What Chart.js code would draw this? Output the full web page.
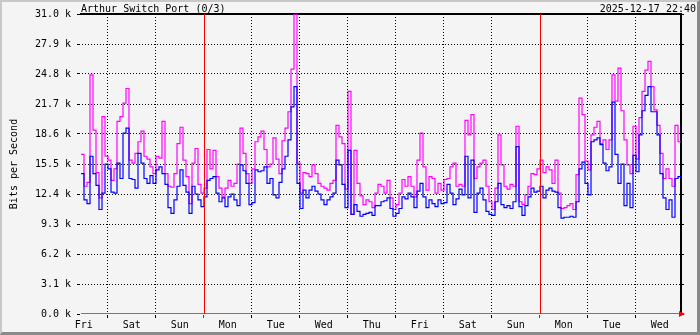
<!DOCTYPE html>
<html>
<head>
<meta charset="utf-8">
<script src="https://cdn.jsdelivr.net/npm/chart.js@4/dist/chart.umd.min.js"></script>
<style>
html,body{margin:0;padding:0;background:#f4f4f4;}
#wrap{position:relative;width:700px;height:335px;}
canvas{display:block;}
#frame{position:absolute;left:0;top:0;width:700px;height:335px;box-sizing:border-box;
  border-top:2px solid #c8c8c8;border-left:2px solid #c8c8c8;
  border-right:3px solid #8a8a8a;border-bottom:3px solid #8a8a8a;pointer-events:none;}
</style>
</head>
<body>
<div id="wrap"><canvas id="c" width="700" height="335"></canvas><div id="frame"></div></div>
<script>
// ---- texts ----
const chartTitle = 'Arthur Switch Port (0/3)';
const timestamp = '2025-12-17 22:40';
const yAxisTitle = 'Bits per Second';
// ---- axis categories / ticks ----
const dayLabels = ['Fri','Sat','Sun','Mon','Tue','Wed','Thu','Fri','Sat','Sun','Mon','Tue','Wed'];
const yTickValues = [0, 3.1, 6.2, 9.3, 12.4, 15.5, 18.6, 21.7, 24.8, 27.9, 31.0]; // k bits/s
const SPAN_HOURS = 300;          // width of the week graph (hours)
const SAMPLE_HOURS = 1.5;        // one value per 1.5 h
const FIRST_MIDNIGHT = 13 + 1/3; // hours from left edge (Fri 10:40) to Sat 00:00

// ---- series (k bits per second) ----
const maxOut = [
 16.5,13.2,13.6,24.7,19.0,14.6,12.0,20.4,16.3,15.9,13.8,15.0,19.9,20.4,21.8,23.3,15.9,15.6,16.6,17.8,
 18.9,16.3,16.0,15.2,14.5,16.3,16.1,19.9,14.5,13.2,13.1,14.5,17.6,19.3,15.9,14.2,11.4,15.6,17.1,13.4,
 12.5,13.0,17.0,15.0,16.9,14.2,13.0,12.1,13.0,13.8,13.2,13.5,15.5,19.2,16.6,14.5,13.5,15.0,17.8,18.3,
 18.9,17.0,15.2,15.5,18.2,16.0,14.5,17.9,19.2,20.9,25.3,31.0,15.6,12.5,14.6,14.5,14.2,15.4,14.5,13.5,
 13.2,13.0,12.8,13.5,13.8,19.5,18.3,17.6,12.9,23.0,10.3,16.9,13.5,12.2,11.3,11.8,11.6,11.0,12.5,13.4,
 13.2,12.5,13.8,12.0,10.8,11.3,12.5,13.9,13.2,14.2,13.2,12.1,15.9,18.7,15.2,12.8,14.2,14.0,12.5,13.5,
 12.8,13.9,14.0,15.2,15.6,13.2,13.4,13.2,20.0,18.5,20.6,14.0,15.2,15.6,15.9,13.2,11.6,10.8,13.0,18.5,
 15.4,13.2,12.9,13.4,13.2,19.4,11.6,11.3,12.3,13.2,14.5,14.4,15.0,15.9,14.6,15.2,14.9,13.5,15.9,12.5,
 10.9,11.0,11.2,11.4,10.8,14.4,22.3,20.6,15.8,14.9,18.5,19.3,19.9,17.6,18.0,17.0,18.0,24.7,22.0,25.4,
 21.0,18.0,15.4,14.5,19.4,16.0,20.3,23.0,25.2,26.1,23.5,21.1,19.5,16.6,14.0,15.0,14.0,13.2,19.5,17.8
];
const avgOut = [
 14.5,11.8,11.4,16.3,14.5,13.3,10.8,12.5,15.5,15.0,12.6,12.5,15.6,14.0,18.7,19.2,14.0,13.9,13.0,16.6,
 15.6,14.0,13.5,14.3,13.5,14.9,15.2,14.5,13.4,11.0,10.4,11.8,13.2,14.9,13.3,12.6,10.4,13.2,12.4,11.8,
 11.1,12.1,13.8,14.0,14.2,12.5,11.6,12.0,11.1,12.1,12.4,11.8,11.2,15.4,14.8,13.5,11.3,11.5,14.9,14.7,
 14.8,15.2,13.5,14.0,12.3,12.0,13.6,15.0,16.3,18.0,21.4,23.5,13.5,10.9,12.8,12.0,12.8,13.2,12.7,12.4,
 11.8,11.3,11.8,12.1,12.5,15.9,15.4,13.4,11.0,16.9,10.3,11.3,10.6,10.1,10.3,10.4,10.5,10.2,11.2,11.2,
 11.6,11.7,12.0,10.9,10.1,10.4,10.9,12.1,11.9,12.5,12.1,11.0,12.7,13.5,12.1,11.0,11.8,11.4,11.1,11.8,
 11.4,11.5,13.4,12.5,11.3,11.9,12.9,12.3,16.3,12.0,15.9,10.5,12.5,13.0,11.8,10.6,10.3,10.2,11.6,13.5,
 11.3,11.0,11.2,10.9,11.6,17.3,11.1,10.2,11.2,12.1,13.0,12.6,12.7,13.2,12.0,12.8,13.0,12.7,12.6,11.0,
 9.9,10.0,10.0,10.1,10.0,11.6,15.0,15.7,13.5,12.3,17.8,18.0,18.2,17.5,15.6,14.8,15.2,21.9,16.5,13.5,
 15.5,11.2,13.5,11.0,16.4,14.7,18.5,21.0,22.6,23.5,20.9,20.9,18.5,14.5,12.0,10.8,11.8,10.0,14.0,14.2
];
const inTraffic = [
 0,0,0,0,0,0,0,0,0,0,0,0,0,0,0,0,0,0,0,0, 0,0,0,0,0,0,0,0,0,0,0,0,0,0,0,0,0,0,0,0,
 0,0,0,0,0,0,0,0,0,0,0,0,0,0,0,0,0,0,0,0, 0,0,0,0,0,0,0,0,0,0,0,0,0,0,0,0,0,0,0,0,
 0,0,0,0,0,0,0,0,0,0,0,0,0,0,0,0,0,0,0,0, 0,0,0,0,0,0,0,0,0,0,0,0,0,0,0,0,0,0,0,0,
 0,0,0,0,0,0,0,0,0,0,0,0,0,0,0,0,0,0,0,0, 0,0,0,0,0,0,0,0,0,0,0,0,0,0,0,0,0,0,0,0,
 0,0,0,0,0,0,0,0,0,0,0,0,0,0,0,0,0,0,0,0, 0,0,0,0,0,0,0,0,0,0,0,0,0,0,0,0,0,0,0,0
];

// ---- build library structures ----
function toPoints(arr){
  const pts = arr.map((v,i)=>({x:i*SAMPLE_HOURS, y:v}));
  pts.push({x:SPAN_HOURS, y:arr[arr.length-1]});
  return pts;
}
const boundaries = [];
for (let k=0;k<dayLabels.length-1;k++){
  boundaries.push({v:FIRST_MIDNIGHT+24*k, mon: dayLabels[k+1]==='Mon'});
}
const noons = dayLabels.map((d,k)=>({v:FIRST_MIDNIGHT-12+24*k, label:d}));
const near = (a,b)=>Math.abs(a-b)<1e-6;
const noonLabel = v => { const n = noons.find(o=>near(o.v,v)); return n ? n.label : null; };
const isMonday = v => boundaries.some(b=>b.mon && near(b.v,v));
const FONT = '"DejaVu Sans Mono", monospace';

// week-start (Monday 00:00) markers, placed through the x scale
const weekMarkers = {
  id:'weekMarkers',
  afterDraw(chart){
    const {ctx, chartArea:a, scales} = chart;
    ctx.save();
    ctx.strokeStyle = '#ff0000';
    ctx.lineWidth = 1;
    boundaries.filter(b=>b.mon).forEach(b=>{
      const px = Math.round(scales.x.getPixelForValue(b.v)) + 0.5;
      ctx.beginPath();
      ctx.moveTo(px, a.top);
      ctx.lineTo(px, a.bottom);
      ctx.stroke();
    });
    ctx.restore();
  }
};

const frameText = {
  id:'frameText',
  afterDraw(chart){
    const {ctx, chartArea:a} = chart;
    ctx.save();
    ctx.font = '10px ' + FONT;
    ctx.fillStyle = '#000';
    ctx.textBaseline = 'alphabetic';
    ctx.textAlign = 'left';
    ctx.fillText(chartTitle, a.left, 12);
    ctx.textAlign = 'right';
    ctx.fillText(timestamp, chart.width-4, 12);
    // red arrow at the end of the time axis
    ctx.fillStyle = '#ff0000';
    ctx.beginPath();
    ctx.moveTo(a.right-2, a.bottom-3);
    ctx.lineTo(a.right+4, a.bottom);
    ctx.lineTo(a.right-2, a.bottom+3);
    ctx.closePath();
    ctx.fill();
    ctx.restore();
  }
};

Chart.defaults.font.family = FONT;
Chart.defaults.font.size = 10;
Chart.defaults.color = '#000';

const transparent = 'rgba(0,0,0,0)';
const dayGridColor = c => (c.tick && (noonLabel(c.tick.value)!==null || isMonday(c.tick.value))) ? transparent : '#000';
const dayTickColor = c => (c.tick && noonLabel(c.tick.value)!==null) ? transparent : (c.tick && isMonday(c.tick.value) ? '#ff0000' : '#000');

new Chart(document.getElementById('c'), {
  type:'line',
  data:{
    datasets:[
      {label:'In', data:toPoints(inTraffic), borderColor:'#00cc00', borderWidth:2, stepped:true, pointRadius:0, fill:false},
      {label:'Out', data:toPoints(avgOut), borderColor:'#0000ff', borderWidth:1.2, stepped:true, pointRadius:0, fill:false},
      {label:'Max Out', data:toPoints(maxOut), borderColor:'#ff00ff', borderWidth:1.2, stepped:true, pointRadius:0, fill:false}
    ]
  },
  options:{
    responsive:false, animation:false, devicePixelRatio:1,
    layout:{padding:0},
    plugins:{legend:{display:false}, tooltip:{enabled:false}, title:{display:false}},
    scales:{
      x:{
        type:'linear', position:'bottom', min:0, max:SPAN_HOURS,
        afterBuildTicks: s => {
          const vals = boundaries.map(b=>b.v).concat(noons.map(n=>n.v)).sort((a,b)=>a-b);
          s.ticks = vals.map(v=>({value:v}));
        },
        ticks:{autoSkip:false, maxRotation:0, minRotation:0, padding:1, color:'#000',
          callback: v => { const l = noonLabel(v); return l===null ? '' : l; }},
        grid:{z:1, lineWidth:1, tickLength:4, color: dayGridColor, tickColor: dayTickColor},
        border:{color:'#000', width:2, dash:[1,2]},
        afterFit: s => { s.height = 21; }
      },
      xt:{
        type:'linear', position:'top', min:0, max:SPAN_HOURS,
        grid:{display:false}, ticks:{display:false},
        border:{display:true, color:'#000', width:2},
        afterFit: s => { s.height = 14; }
      },
      y:{
        type:'linear', position:'left', min:0, max:31,
        afterBuildTicks: s => { s.ticks = yTickValues.map(v=>({value:v})); },
        ticks:{autoSkip:false, padding:6, color:'#000', callback: v => v.toFixed(1)+' k'},
        grid:{
          z:1, lineWidth:1, tickLength:4, tickColor:'#000',
          color: c => (c.tick && (c.tick.value<=0 || c.tick.value>=31)) ? transparent : '#000'
        },
        border:{color:'#000', width:2, dash:[1,2]},
        title:{display:true, text:yAxisTitle, color:'#000', font:{size:10}, padding:{top:8,bottom:0}},
        afterFit: s => { s.width = 81; }
      },
      y2:{
        type:'linear', position:'right', min:0, max:31,
        afterBuildTicks: s => { s.ticks = yTickValues.map(v=>({value:v})); },
        ticks:{display:false},
        grid:{drawOnChartArea:false, drawTicks:true, tickLength:3, tickColor:'#000'},
        border:{display:true, color:'#000', width:2},
        afterFit: s => { s.width = 19; }
      }
    }
  },
  plugins:[weekMarkers, frameText]
});
</script>
</body>
</html>
